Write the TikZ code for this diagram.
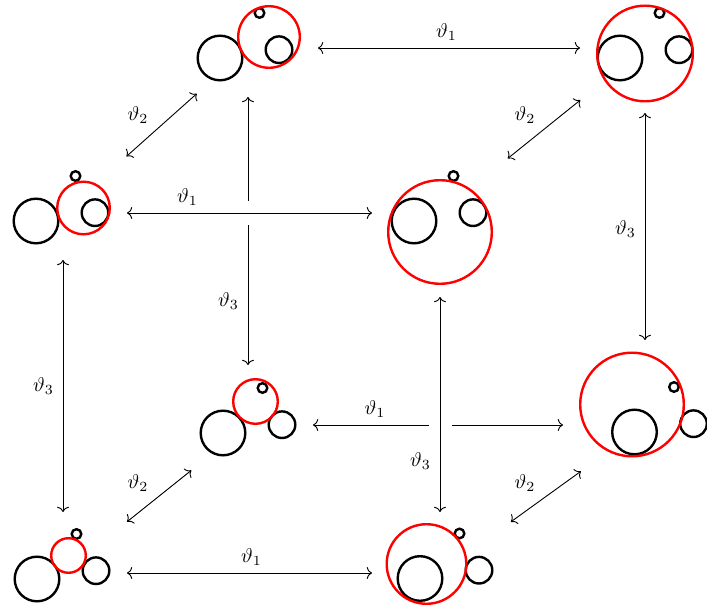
\documentclass[tikz,border=0pt]{standalone}
\usetikzlibrary{arrows.meta}
\tikzset{
  ball/.style={draw=black, line width=1.2pt},
  shell/.style={draw=red, line width=1.2pt},
  link/.style={<->, line width=0.45pt,
    >={Computer Modern Rightarrow[length=2.6pt, width=6pt]}},
  over/.style={preaction={draw=white, -, line width=#1}},
  over/.default=12pt,
}
% the three balls, big one at #1
\newcommand{\trio}[1]{%
  \begin{scope}[shift={#1}]
    \draw[ball] (0,0) circle[radius=11.15pt];
    \draw[ball] (59,-8.3) circle[radius=6.65pt];
    \draw[ball] (39.5,-45) circle[radius=2.4pt];
  \end{scope}}
\begin{document}
\begin{tikzpicture}[x=0.5pt, y=-0.5pt]
  \useasboundingbox (0,0) rectangle (707,609);

  % corners of the cube
  \coordinate (e)   at (63,573);
  \coordinate (b)   at (440,573);
  \coordinate (m)   at (63,213);
  \coordinate (bm)  at (440,213);
  \coordinate (t)   at (248,425);
  \coordinate (bt)  at (645,425);
  \coordinate (mt)  at (248,48);
  \coordinate (bmt) at (645,48);

  % balls and the red shells
  \trio{(37,579)}   \draw[shell] (68.5,555.5) circle[radius=8.65pt];
  \trio{(420,578.5)}\draw[shell] (426.5,564) circle[radius=19.9pt];
  \trio{(36,221)}   \draw[shell] (83.5,208) circle[radius=13.15pt];
  \trio{(414,221)}  \draw[shell] (440,232) circle[radius=25.9pt];
  \trio{(223,433)}  \draw[shell] (255.5,401.5) circle[radius=11.15pt];
  \trio{(634.5,432)}\draw[shell] (632,404.5) circle[radius=25.9pt];
  \trio{(220,58)}   \draw[shell] (269,37) circle[radius=15.4pt];
  \trio{(620,58)}   \draw[shell] (645,53.5) circle[radius=23.9pt];

  % theta_1
  \draw[link, shorten <=35pt, shorten >=32.5pt] (mt) -- node[above] {$\vartheta_1$} (bmt);
  \draw[link, shorten <=32pt, shorten >=34pt] (e) -- node[above] {$\vartheta_1$} (b);
  \draw[link, shorten <=32.5pt, shorten >=41pt] (t) -- node[above, pos=.32] {$\vartheta_1$} (bt);

  % theta_3
  \draw[link, shorten <=23.5pt, shorten >=30.5pt] (m) -- node[left=1pt, pos=.48] {$\vartheta_3$} (e);
  \draw[link, shorten <=32.5pt, shorten >=42.5pt] (bmt) -- node[left=1pt, pos=.48] {$\vartheta_3$} (bt);
  \draw[link, shorten <=24.5pt, shorten >=30pt] (mt) -- node[left=1pt, pos=.67] {$\vartheta_3$} (t);

  % theta_2
  \draw[link, shorten <=42.5pt, shorten >=34.3pt] (m) -- node[above left] {$\vartheta_2$} (mt);
  \draw[link, shorten <=43.5pt, shorten >=41.5pt] (bm) -- node[above left] {$\vartheta_2$} (bmt);
  \draw[link, shorten <=41pt, shorten >=36.3pt] (e) -- node[above left] {$\vartheta_2$} (t);
  \draw[link, shorten <=43.7pt, shorten >=39.5pt] (b) -- node[above left] {$\vartheta_2$} (bt);

  % these two pass over the others
  \draw[link, over, shorten <=32pt, shorten >=34pt] (m) -- node[above, pos=.33] {$\vartheta_1$} (bm);
  \draw[link, over=11.5pt, shorten <=42pt, shorten >=30.5pt] (bm) -- node[left=1pt, pos=.69] {$\vartheta_3$} (b);
\end{tikzpicture}
\end{document}
